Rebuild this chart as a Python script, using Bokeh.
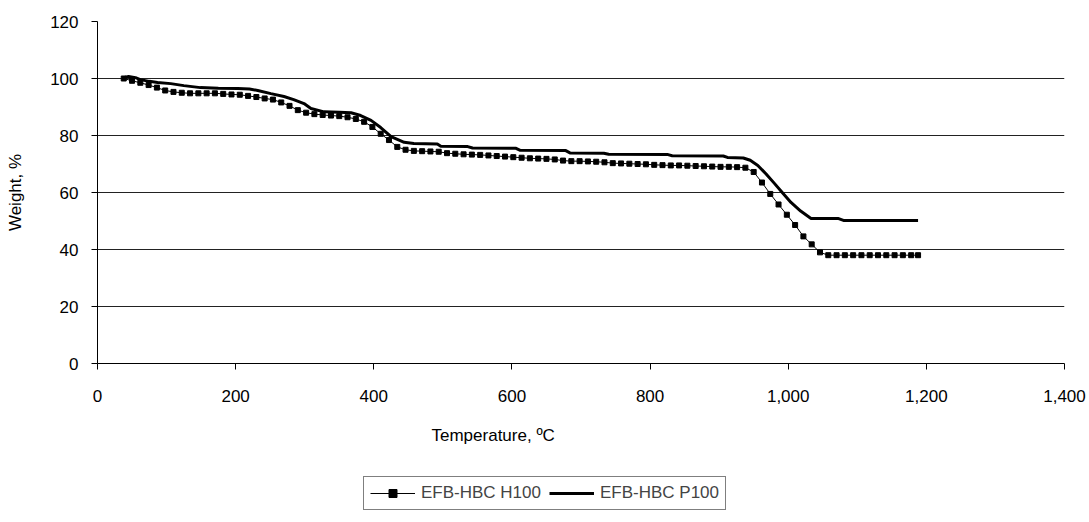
from bokeh.plotting import figure
from bokeh.layouts import column
from bokeh.models import Range1d, FixedTicker, NumeralTickFormatter, Legend, LegendItem, Title
from bokeh.embed import file_html
from bokeh.resources import INLINE

# ---- data ----
h100_temp = [38, 50, 62, 74, 86, 98, 110, 122, 134, 146, 158, 170, 182, 194, 206, 218, 230, 242,
             254, 266, 278, 290, 302, 314, 326, 338, 350, 362, 374, 386, 398, 410, 422, 434, 446,
             458, 470, 482, 494, 506, 518, 530, 542, 554, 566, 578, 590, 602, 614, 626, 638, 650,
             662, 674, 686, 698, 710, 722, 734, 746, 758, 770, 782, 794, 806, 818, 830, 842, 854,
             866, 878, 890, 902, 914, 926, 938, 950, 962, 974, 986, 998, 1010, 1022, 1034, 1046,
             1058, 1070, 1082, 1094, 1106, 1118, 1130, 1142, 1154, 1166, 1178, 1188]
h100_weight = [100.0, 99.2, 98.5, 97.7, 96.8, 95.8, 95.3, 95.0, 94.8, 94.8, 94.8, 94.8, 94.6, 94.4,
               94.3, 93.9, 93.5, 93.0, 92.6, 91.6, 90.4, 88.9, 88.0, 87.5, 87.2, 87.0, 86.8, 86.4,
               85.8, 84.8, 83.0, 80.6, 78.4, 76.0, 75.0, 74.6, 74.5, 74.4, 74.3, 73.8, 73.6, 73.4,
               73.3, 73.2, 73.0, 72.8, 72.6, 72.4, 72.2, 72.0, 71.9, 71.8, 71.6, 71.2, 71.0, 71.0,
               70.9, 70.8, 70.6, 70.3, 70.2, 70.1, 70.0, 69.9, 69.7, 69.6, 69.5, 69.5, 69.4, 69.3,
               69.2, 69.1, 69.0, 69.0, 68.9, 68.7, 67.2, 63.5, 59.5, 55.8, 52.2, 48.6, 44.6, 41.8,
               39.0, 38.0, 38.0, 38.0, 38.0, 38.0, 38.0, 38.0, 38.0, 38.0, 38.0, 38.0, 38.0]

p100_temp = [36, 45, 55, 62, 75, 87, 106, 125, 149, 175, 203, 220, 232, 251, 270, 284, 299, 309,
             328, 350, 367, 381, 396, 410, 425, 444, 458, 492, 497, 536, 543, 606, 612, 678, 684,
             733, 740, 826, 832, 906, 912, 935, 945, 956, 968, 980, 992, 1004, 1018, 1033, 1072,
             1080, 1188]
p100_weight = [100.2, 100.7, 100.3, 99.6, 99.0, 98.6, 98.2, 97.5, 96.8, 96.6, 96.5, 96.3, 95.8,
               94.7, 93.7, 92.6, 91.2, 89.5, 88.3, 88.2, 88.0, 87.0, 85.3, 82.8, 79.6, 77.6, 77.2,
               77.0, 76.2, 76.1, 75.6, 75.5, 74.8, 74.7, 73.9, 73.8, 73.4, 73.3, 72.9, 72.8, 72.3,
               72.1, 71.3, 69.5, 66.5, 63.2, 59.8, 56.5, 53.5, 50.9, 50.9, 50.2, 50.2]

series_names = ["EFB-HBC H100", "EFB-HBC P100"]
x_ticks = [0, 200, 400, 600, 800, 1000, 1200, 1400]
y_ticks = [0, 20, 40, 60, 80, 100, 120]
x_title = "Temperature, ºC"
y_title = "Weight, %"

FONT = "Liberation Sans"
FS = "17px"

# ---- main chart ----
p = figure(output_backend="svg", toolbar_location=None,
           frame_width=967, frame_height=342,
           x_range=Range1d(0, 1400), y_range=Range1d(0, 120))
p.min_border_left = 97
p.min_border_right = 25
p.min_border_top = 21
p.min_border_bottom = 107
p.outline_line_color = None
p.background_fill_color = "white"
p.border_fill_color = "white"

p.xgrid.visible = False
p.ygrid.grid_line_color = "#222222"
p.ygrid.grid_line_width = 1
p.ygrid.ticker = FixedTicker(ticks=y_ticks)

for ax in (p.xaxis[0], p.yaxis[0]):
    ax.axis_line_color = "black"
    ax.axis_line_width = 1
    ax.major_tick_line_color = "black"
    ax.major_tick_out = 6
    ax.major_tick_in = 0
    ax.minor_tick_line_color = None
    ax.major_label_text_font = FONT
    ax.major_label_text_font_size = FS
    ax.major_label_text_color = "black"
    ax.axis_label_text_font = FONT
    ax.axis_label_text_font_size = FS
    ax.axis_label_text_font_style = "normal"
    ax.axis_label_text_color = "black"

p.xaxis.ticker = FixedTicker(ticks=x_ticks)
p.yaxis.ticker = FixedTicker(ticks=y_ticks)
p.xaxis.formatter = NumeralTickFormatter(format="0,0")
p.yaxis.axis_label = y_title
p.xaxis.major_label_standoff = 20
p.yaxis.major_label_standoff = 13
p.yaxis.axis_label_standoff = 22

p.line(h100_temp, h100_weight, line_color="black", line_width=1)
p.scatter(h100_temp, h100_weight, marker="square", size=5, fill_color="black", line_color="black")
p.line(p100_temp, p100_weight, line_color="black", line_width=3)

xt = Title(text=x_title, align="left", offset=334, standoff=39,
           text_font=FONT, text_font_size=FS, text_font_style="normal", text_color="black")
p.add_layout(xt, "below")

# ---- legend strip (a frame-only figure holding the legend) ----
lg = figure(output_backend="svg", toolbar_location=None, width=1089, height=52,
            x_range=Range1d(0, 1), y_range=Range1d(0, 1),
            x_axis_type=None, y_axis_type=None)
lg.min_border = 0
lg.outline_line_color = None
lg.grid.visible = False
lg.background_fill_color = "white"
lg.border_fill_color = "white"
# same series; their data lies outside this strip's ranges, so only the legend keys show
g_h_line = lg.line(h100_temp, h100_weight, line_color="black", line_width=1)
g_h_pts = lg.scatter(h100_temp, h100_weight, marker="square", size=5, fill_color="black",
                     line_color="black")
g_p_line = lg.line(p100_temp, p100_weight, line_color="black", line_width=3)

legend = Legend(items=[LegendItem(label=series_names[0], renderers=[g_h_line, g_h_pts]),
                       LegendItem(label=series_names[1], renderers=[g_p_line])],
                orientation="horizontal", location=(266, 12))
legend.border_line_color = "black"
legend.border_line_width = 1
legend.background_fill_alpha = 1
legend.label_text_font = FONT
legend.label_text_font_size = FS
legend.glyph_width = 45
legend.spacing = 8
legend.padding = 6
legend.margin = 0
legend.label_standoff = 6
lg.add_layout(legend, "center")

layout = column(p, lg, spacing=0)
open("out.html", "w").write(file_html(layout, INLINE))
